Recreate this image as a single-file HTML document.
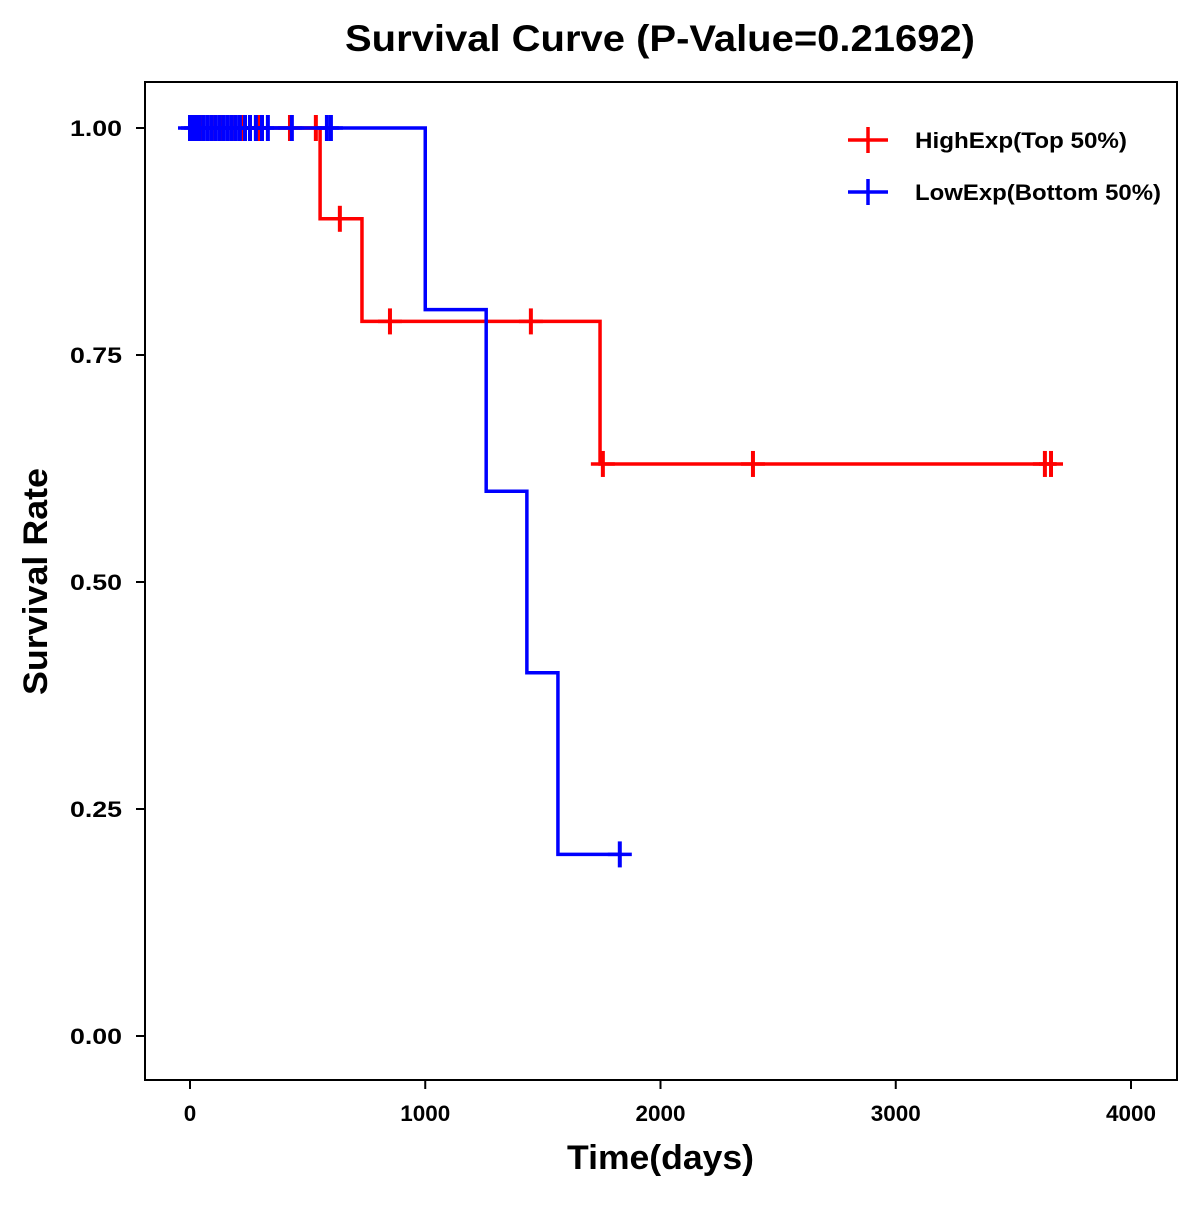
<!DOCTYPE html>
<html><head><meta charset="utf-8"><style>
body{margin:0;background:#fff}
text{font-family:"Liberation Sans",Arial,sans-serif;font-weight:bold}
</style></head><body>
<svg id="chart" width="1200" height="1200" xmlns="http://www.w3.org/2000/svg">
<rect width="1200" height="1200" fill="#fff"/>
<text x="345" y="51" font-size="37" textLength="630" lengthAdjust="spacingAndGlyphs">Survival Curve (P-Value=0.21692)</text>
<rect x="145" y="82" width="1032" height="998" fill="none" stroke="#000" stroke-width="2"/>
<g id="axes"></g>
<g id="series"></g>
<text x="567" y="1169" font-size="34" textLength="187" lengthAdjust="spacingAndGlyphs">Time(days)</text>
<text transform="translate(47,695) rotate(-90)" font-size="34" textLength="227" lengthAdjust="spacingAndGlyphs">Survival Rate</text>
<g>
<g>
<line x1="848" y1="140" x2="888" y2="140" stroke="red" stroke-width="3.5"/><line x1="868" y1="127" x2="868" y2="153" stroke="red" stroke-width="3.5"/>
<text x="915" y="148" font-size="22" textLength="212" lengthAdjust="spacingAndGlyphs">HighExp(Top 50%)</text></g>
<g>
<line x1="848" y1="192" x2="888" y2="192" stroke="blue" stroke-width="3.5"/><line x1="868" y1="179" x2="868" y2="205" stroke="blue" stroke-width="3.5"/>
<text x="915" y="200" font-size="22" textLength="246" lengthAdjust="spacingAndGlyphs">LowExp(Bottom 50%)</text></g>
</g>
</svg>
<script>
const xTicks=[0,1000,2000,3000,4000];
const yTicks=[0,0.25,0.5,0.75,1.0];
const yTickLabels=["0.00","0.25","0.50","0.75","1.00"];
const highStepTimes=[0,553,731,1743,3680];
const highStepSurv=[1.0,0.90,0.787,0.63,0.63];
const highCensorTimes=[51,93,136,178,221,289,425,535,637,850,1449,1755,2393,3634,3660];
const highCensorSurv=[1,1,1,1,1,1,1,1,0.90,0.787,0.787,0.63,0.63,0.63,0.63];
const lowStepTimes=[0,1000,1259,1432,1564,1827];
const lowStepSurv=[1.0,0.80,0.60,0.40,0.20,0.20];
const lowCensorTimes=[0,13,26,42,59,76,93,110,127,144,161,178,195,212,234,255,280,306,331,433,582,599,1827];
const lowCensorSurv=[1,1,1,1,1,1,1,1,1,1,1,1,1,1,1,1,1,1,1,1,1,1,0.20];
const X=t=>190+t*0.23525, Y=s=>1036-s*908;
const NS="http://www.w3.org/2000/svg";
function mk(tag,attrs,parent){const e=document.createElementNS(NS,tag);for(const k in attrs)e.setAttribute(k,attrs[k]);parent.appendChild(e);return e;}
const ax=document.getElementById('axes');
xTicks.forEach(t=>{
  const l=mk('line',{x1:X(t),x2:X(t),y1:1080,y2:1089,stroke:'#000','stroke-width':2},ax);
  
  
  const s=String(t);
  const tx=mk('text',{x:X(t),y:1121,'font-size':22,'text-anchor':'middle',textLength:s.length*12.5,lengthAdjust:'spacingAndGlyphs'},ax);tx.textContent=s;
  
  
});
yTicks.forEach((v,i)=>{
  const l=mk('line',{x1:136,x2:145,y1:Y(v),y2:Y(v),stroke:'#000','stroke-width':2},ax);
  
  
  const tx=mk('text',{x:122,y:Y(v)+8,'font-size':22,'text-anchor':'end',textLength:52,lengthAdjust:'spacingAndGlyphs'},ax);tx.textContent=yTickLabels[i];
  
  
});
const sg=document.getElementById('series');
function drawSeries(times,surv,ct,cs,color,name){
  let d='M'+X(times[0])+','+Y(surv[0]);
  for(let i=1;i<times.length;i++){d+=' H'+X(times[i])+' V'+Y(surv[i]);}
  const p=mk('path',{d:d,fill:'none',stroke:color,'stroke-width':3.5},sg);
  
  
  ct.forEach((t,i)=>{
    const g=mk('g',{},sg);
    
    
    mk('line',{x1:X(t)-12,x2:X(t)+12,y1:Y(cs[i]),y2:Y(cs[i]),stroke:color,'stroke-width':3.5},g);
    mk('line',{x1:X(t),x2:X(t),y1:Y(cs[i])-13,y2:Y(cs[i])+13,stroke:color,'stroke-width':4},g);
  });
}
drawSeries(highStepTimes,highStepSurv,highCensorTimes,highCensorSurv,'red','high-exp');
drawSeries(lowStepTimes,lowStepSurv,lowCensorTimes,lowCensorSurv,'blue','low-exp');
</script>
</body></html>
